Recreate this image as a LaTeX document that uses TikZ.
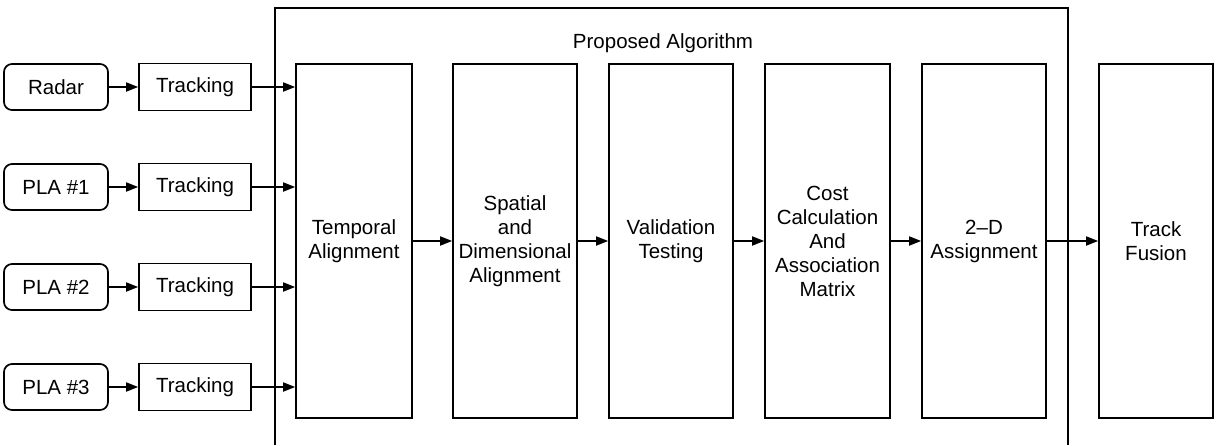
\documentclass[tikz,border=0pt]{standalone}
\usepackage{fontspec}
\setmainfont{Liberation Sans}
\usetikzlibrary{arrows.meta}
\begin{document}
\begin{tikzpicture}[x=1pt,y=-1pt,
  line width=1.7pt,
  every node/.style={font=\fontsize{20.5}{24}\selectfont, align=center, inner sep=0pt},
  srcbox/.style={draw, rounded corners=8pt, minimum width=104pt, minimum height=46pt},
  trkbox/.style={draw, minimum width=112pt, minimum height=47pt},
  stagebox/.style={draw, minimum height=354pt},
  flow/.style={-{Triangle[length=12pt,width=9pt]}}
]
\useasboundingbox (0,0) rectangle (1221,445);

% frame of the proposed algorithm (open at the bottom)
\draw (275,445) -- (275,8) -- (1068,8) -- (1068,445);
\node (title) at (663,43) {Proposed Algorithm};

% sensors and their trackers
\node[srcbox] (radar) at (56,87)  {Radar};
\node[srcbox] (pla1)  at (56,187) {PLA \#1};
\node[srcbox] (pla2)  at (56,287) {PLA \#2};
\node[srcbox] (pla3)  at (56,387) {PLA \#3};

\node[trkbox] (trk0) at (195,87)  {Tracking};
\node[trkbox] (trk1) at (195,187) {Tracking};
\node[trkbox] (trk2) at (195,287) {Tracking};
\node[trkbox] (trk3) at (195,387) {Tracking};

% processing stages
\node[stagebox, minimum width=116pt] (temporal) at (354,241) {Temporal\\Alignment};
\node[stagebox, minimum width=124pt] (spatial)  at (515,241) {Spatial\\and\\Dimensional\\Alignment};
\node[stagebox, minimum width=124pt] (valid)    at (671,241) {Validation\\Testing};
\node[stagebox, minimum width=125pt] (cost)     at (827.5,241) {Cost\\Calculation\\And\\Association\\Matrix};
\node[stagebox, minimum width=124pt] (assign)   at (984,241) {2--D\\Assignment};
\node[stagebox, minimum width=114pt] (fusion)   at (1156,241) {Track\\Fusion};

% connectors
\foreach \s/\t in {radar/trk0, pla1/trk1, pla2/trk2, pla3/trk3}
  \draw[flow] (\s.east) -- (\t.west);
\foreach \t in {trk0, trk1, trk2, trk3}
  \draw[flow] (\t.east) -- (\t.east -| temporal.west);
\draw[flow] (temporal) -- (spatial);
\draw[flow] (spatial) -- (valid);
\draw[flow] (valid) -- (cost);
\draw[flow] (cost) -- (assign);
\draw[flow] (assign) -- (fusion);
\end{tikzpicture}
\end{document}
